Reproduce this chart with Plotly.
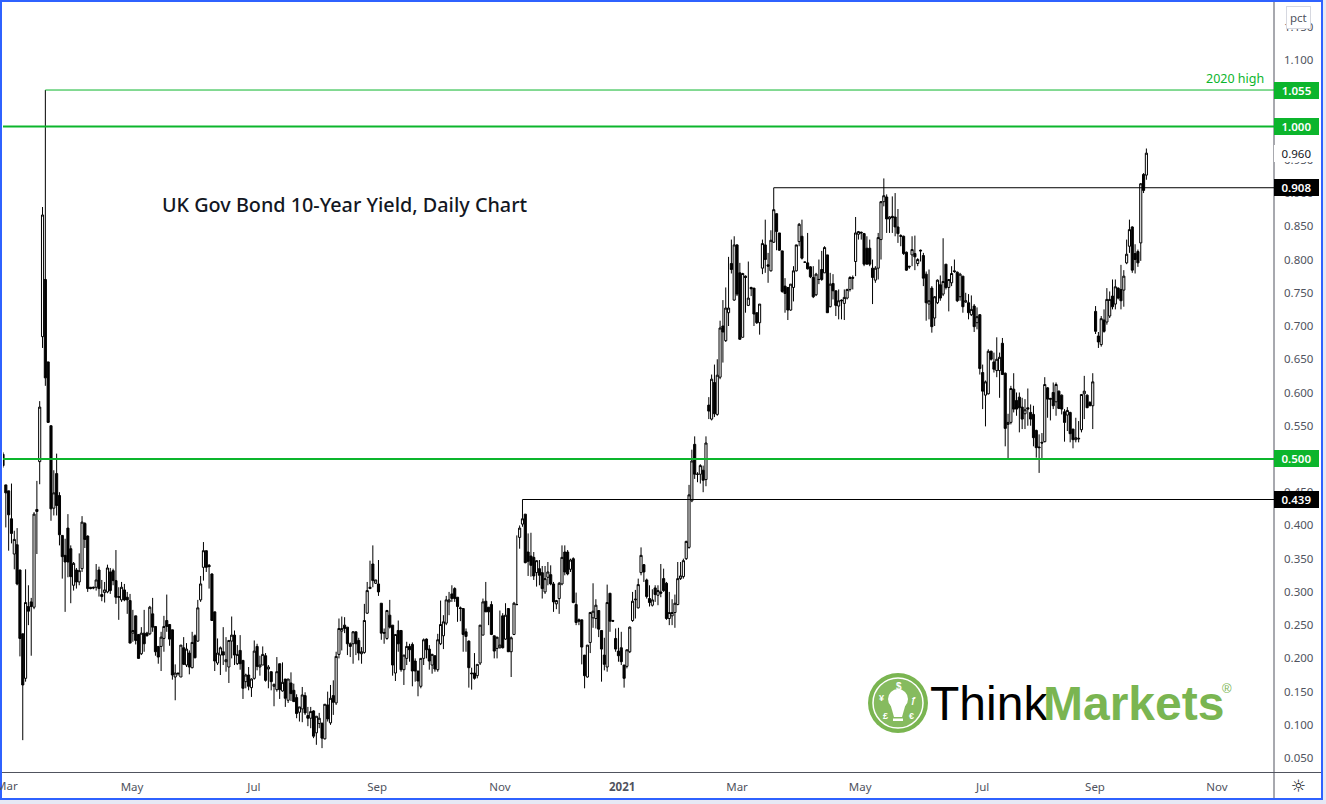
import plotly.graph_objects as go

open_vals = [
.507,.461,.452,.410,.357,.371,.333,.237,.170,.278,
.285,.277,.424,.496,.684,.770,.646,.550,.426,.478,
.445,.385,.355,.396,.365,.310,.333,.315,.335,.403,
.384,.307,.307,.307,.333,.296,.299,.300,.330,.332,
.317,.293,.288,.303,.292,.287,.238,.264,.236,.207,
.238,.238,.237,.267,.248,.218,.218,.230,.257,.251,
.243,.172,.178,.172,.216,.190,.208,.186,.234,.226,
.288,.337,.362,.340,.327,.270,.193,.205,.210,.195,
.187,.226,.235,.192,.212,.197,.165,.175,.156,.170,
.218,.187,.190,.204,.184,.180,.158,.153,.192,.151,
.169,.137,.163,.152,.141,.119,.124,.144,.114,.110,
.121,.088,.102,.102,.079,.130,.103,.144,.133,.206,
.241,.250,.247,.222,.222,.240,.227,.207,.209,.268,
.305,.342,.313,.312,.283,.239,.230,.265,.250,.178,
.242,.242,.183,.200,.218,.221,.196,.181,.158,.200,
.229,.214,.190,.204,.183,.222,.234,.253,.285,.297,
.305,.292,.276,.275,.240,.226,.178,.178,.174,.193,
.235,.286,.277,.281,.234,.215,.216,.264,.229,.275,
.210,.236,.281,.382,.402,.417,.360,.354,.352,.329,
.335,.329,.300,.322,.326,.312,.282,.290,.312,.360,
.360,.334,.350,.281,.258,.258,.205,.172,.224,.261,
.260,.272,.242,.205,.187,.298,.257,.230,.211,.216,
.190,.188,.210,.257,.288,.276,.329,.341,.318,.290,
.280,.306,.295,.300,.320,.313,.260,.264,.269,.281,
.320,.323,.350,.367,.437,.522,.477,.477,.483,.469,
.581,.560,.615,.567,.623,.700,.678,.720,.794,.739,
.822,.780,.683,.775,.731,.758,.757,.720,.705,.787,
.822,.792,.783,.826,.869,.840,.813,.760,.758,.724,
.758,.783,.827,.835,.796,.795,.789,.773,.747,.770,
.785,.780,.807,.729,.764,.753,.730,.739,.734,.742,
.755,.773,.797,.838,.841,.839,.817,.817,.787,.769,
.787,.830,.887,.894,.861,.865,.864,.849,.836,.835,
.811,.790,.807,.809,.794,.814,.806,.778,.733,.757,
.712,.735,.762,.748,.793,.758,.765,.783,.781,.744,
.775,.736,.735,.717,.730,.705,.717,.630,.596,.598,
.662,.646,.633,.633,.674,.629,.552,.555,.605,.588,
.593,.578,.568,.577,.570,.567,.543,.518,.525,.526,
.607,.591,.600,.586,.602,.596,.571,.566,.570,.545,
.529,.530,.544,.598,.596,.585,.580,.722,.685,.672,
.709,.706,.715,.745,.733,.757,.755,.754,.795,.820,
.849,.809,.812,.825,.928,.927]

high_vals = [
.510,.461,.452,.463,.392,.396,.333,.237,.334,.310,
.291,.420,.467,.587,.879,1.055,.646,.550,.483,.508,
.450,.385,.380,.417,.370,.345,.336,.358,.414,.405,
.385,.307,.308,.342,.338,.318,.315,.341,.336,.335,
.363,.307,.315,.312,.300,.297,.273,.264,.236,.247,
.273,.240,.279,.291,.248,.218,.240,.264,.296,.251,
.243,.191,.178,.220,.232,.223,.212,.240,.236,.288,
.324,.375,.362,.342,.328,.270,.230,.218,.247,.232,
.227,.263,.242,.220,.235,.197,.177,.187,.170,.227,
.222,.204,.218,.208,.190,.180,.162,.202,.192,.194,
.169,.169,.179,.162,.146,.127,.157,.149,.127,.127,
.122,.113,.118,.104,.130,.150,.160,.167,.210,.260,
.263,.262,.247,.224,.241,.240,.231,.217,.282,.315,
.347,.370,.318,.348,.283,.245,.273,.288,.250,.236,
.257,.242,.205,.225,.222,.224,.200,.181,.200,.230,
.230,.220,.207,.204,.237,.287,.265,.294,.300,.310,
.307,.292,.278,.275,.245,.227,.186,.208,.191,.250,
.290,.315,.277,.286,.234,.230,.272,.268,.283,.275,
.233,.285,.385,.400,.439,.417,.388,.389,.360,.347,
.348,.339,.339,.345,.340,.315,.288,.315,.370,.370,
.363,.350,.352,.299,.260,.258,.205,.220,.270,.313,
.289,.272,.242,.231,.311,.298,.258,.245,.246,.240,
.190,.213,.248,.300,.303,.320,.367,.342,.320,.310,
.304,.310,.310,.342,.335,.315,.300,.289,.296,.345,
.345,.350,.377,.461,.514,.534,.480,.492,.490,.534,
.593,.627,.642,.650,.708,.739,.758,.804,.830,.835,
.823,.795,.780,.776,.797,.759,.757,.720,.733,.830,
.860,.810,.844,.908,.869,.840,.813,.772,.758,.763,
.790,.820,.855,.860,.797,.840,.790,.790,.780,.800,
.813,.820,.807,.780,.778,.753,.755,.740,.755,.756,
.775,.776,.864,.843,.842,.840,.835,.830,.800,.790,
.840,.888,.922,.898,.865,.895,.900,.876,.838,.836,
.812,.790,.835,.836,.802,.815,.810,.782,.785,.760,
.745,.770,.776,.832,.793,.770,.790,.800,.782,.780,
.775,.750,.748,.746,.733,.728,.718,.642,.618,.665,
.663,.660,.683,.660,.682,.630,.568,.610,.629,.600,
.600,.592,.590,.606,.582,.580,.544,.537,.539,.623,
.608,.592,.615,.615,.603,.597,.575,.578,.571,.545,
.562,.557,.597,.625,.597,.587,.629,.730,.691,.715,
.725,.757,.752,.770,.770,.758,.792,.784,.830,.860,
.850,.823,.815,.915,.930,.967]

low_vals = [
.487,.397,.362,.373,.334,.310,.203,.077,.165,.250,
.204,.274,.357,.462,.667,.610,.555,.407,.415,.415,
.370,.320,.270,.322,.283,.302,.305,.310,.330,.366,
.300,.304,.304,.302,.293,.286,.284,.298,.297,.310,
.282,.258,.285,.286,.267,.223,.225,.221,.200,.205,
.210,.233,.235,.240,.204,.192,.181,.210,.240,.219,
.168,.137,.174,.172,.190,.187,.176,.185,.200,.225,
.285,.317,.330,.305,.257,.181,.190,.175,.190,.180,
.163,.200,.190,.190,.183,.139,.155,.152,.142,.168,
.182,.174,.190,.165,.155,.152,.128,.150,.139,.150,
.127,.133,.136,.135,.110,.105,.104,.115,.098,.095,
.080,.070,.095,.065,.078,.105,.100,.115,.130,.200,
.212,.238,.205,.202,.192,.205,.197,.192,.207,.267,
.305,.307,.312,.294,.228,.222,.228,.245,.174,.166,
.210,.180,.160,.190,.195,.158,.165,.143,.155,.190,
.200,.183,.177,.180,.180,.220,.214,.250,.265,.285,
.285,.255,.256,.210,.210,.156,.153,.168,.170,.190,
.235,.270,.250,.235,.200,.200,.215,.215,.228,.210,
.172,.235,.280,.365,.398,.343,.324,.323,.318,.308,
.310,.290,.297,.310,.310,.270,.274,.267,.310,.325,
.325,.330,.283,.250,.250,.191,.155,.171,.208,.246,
.245,.232,.165,.182,.180,.240,.255,.210,.195,.190,
.156,.185,.208,.255,.260,.275,.325,.315,.290,.278,
.278,.285,.280,.292,.300,.258,.250,.250,.246,.280,
.318,.320,.348,.365,.435,.470,.465,.463,.450,.459,
.560,.558,.563,.565,.620,.645,.676,.700,.779,.738,
.745,.680,.683,.720,.730,.745,.700,.703,.687,.778,
.780,.765,.782,.825,.814,.813,.750,.720,.709,.723,
.737,.782,.820,.800,.795,.785,.772,.742,.745,.763,
.768,.780,.720,.728,.740,.715,.710,.710,.709,.740,
.752,.755,.775,.830,.830,.790,.793,.790,.733,.765,
.770,.800,.880,.840,.840,.840,.835,.825,.820,.807,
.783,.786,.790,.784,.790,.797,.760,.708,.710,.690,
.700,.733,.738,.745,.755,.722,.760,.780,.736,.738,
.720,.735,.710,.715,.691,.695,.627,.575,.549,.597,
.648,.630,.623,.592,.627,.519,.500,.552,.570,.565,
.540,.545,.545,.550,.550,.519,.502,.479,.500,.525,
.562,.558,.575,.565,.575,.567,.526,.542,.525,.516,
.525,.525,.540,.560,.577,.580,.545,.688,.667,.669,
.690,.702,.712,.725,.725,.740,.725,.729,.793,.810,
.780,.779,.789,.798,.900,.920]

close_vals = [
.490,.449,.416,.388,.379,.312,.230,.160,.284,.271,
.278,.417,.421,.578,.867,.622,.555,.425,.449,.430,
.386,.353,.345,.345,.323,.343,.315,.332,.405,.379,
.305,.305,.306,.318,.305,.293,.303,.336,.302,.317,
.292,.292,.307,.288,.288,.223,.242,.227,.200,.238,
.222,.234,.277,.247,.210,.202,.232,.248,.248,.229,
.175,.178,.177,.220,.191,.214,.187,.224,.201,.276,
.312,.362,.337,.338,.257,.196,.208,.216,.205,.198,
.227,.235,.205,.206,.192,.155,.175,.158,.169,.211,
.188,.190,.206,.167,.187,.165,.161,.180,.153,.164,
.140,.169,.147,.135,.117,.127,.145,.118,.110,.120,
.083,.113,.110,.080,.131,.109,.140,.134,.203,.245,
.245,.245,.222,.218,.240,.222,.208,.210,.257,.302,
.307,.317,.318,.300,.238,.238,.272,.247,.190,.236,
.222,.183,.205,.218,.213,.181,.181,.166,.200,.228,
.213,.196,.206,.184,.228,.251,.255,.288,.288,.290,
.290,.278,.275,.236,.233,.186,.177,.170,.191,.250,
.285,.270,.270,.236,.211,.232,.220,.216,.265,.210,
.231,.283,.281,.396,.410,.344,.346,.340,.324,.347,
.325,.305,.320,.330,.312,.285,.287,.313,.352,.330,
.327,.348,.284,.254,.256,.217,.174,.220,.269,.271,
.280,.244,.214,.191,.284,.256,.256,.214,.204,.195,
.170,.213,.247,.286,.289,.311,.355,.330,.293,.284,
.288,.296,.302,.298,.302,.260,.269,.269,.283,.320,
.324,.347,.376,.446,.497,.477,.477,.490,.468,.524,
.572,.620,.568,.626,.697,.691,.727,.727,.785,.822,
.748,.680,.779,.773,.742,.756,.718,.705,.733,.824,
.800,.790,.829,.875,.842,.814,.752,.749,.724,.763,
.783,.822,.853,.802,.796,.786,.774,.744,.778,.770,
.770,.818,.720,.763,.753,.731,.738,.738,.743,.755,
.773,.772,.840,.842,.840,.793,.793,.793,.773,.787,
.833,.887,.896,.861,.864,.863,.849,.839,.835,.809,
.784,.789,.815,.804,.800,.813,.772,.735,.738,.699,
.744,.769,.742,.767,.758,.770,.779,.782,.738,.778,
.729,.738,.720,.725,.699,.714,.636,.602,.616,.662,
.650,.635,.650,.653,.627,.546,.555,.606,.575,.575,
.577,.560,.574,.575,.560,.532,.517,.517,.524,.612,
.590,.590,.580,.612,.576,.575,.555,.573,.538,.529,
.532,.531,.597,.602,.577,.580,.616,.692,.676,.711,
.692,.740,.740,.729,.759,.742,.738,.775,.808,.845,
.784,.800,.795,.914,.904,.960]

assert len(open_vals) == len(high_vals) == len(low_vals) == len(close_vals) == 406

bar_index = list(range(len(open_vals)))

month_positions = [45.7, 88.9, 132.5, 176, 219.3, 260, 303.6, 347, 386.8, 430]
month_labels = ["May", "Jul", "Sep", "Nov", "<b>2021</b>", "Mar", "May", "Jul", "Sep", "Nov"]

# 1.050, 1.000 and 0.500 sit fully under their level badges in the reference
price_ticks = [0.05, 0.10, 0.15, 0.20, 0.25, 0.30, 0.35, 0.40, 0.45, 0.55, 0.60, 0.65,
               0.70, 0.75, 0.80, 0.85, 0.90, 0.95, 1.10, 1.15]
price_tick_labels = ["%.3f" % p for p in price_ticks]

green_levels = [1.055, 1.000, 0.500]
green_starts = [15, 0, 0]
green_widths = [1, 2, 2]
black_levels = [0.908, 0.439]
black_starts = [273, 184]
last_close = 0.960

GREEN = "#0cb52c"
GREY = "#50535e"
BLUE = "#2f62ff"
FONT = "Noto Sans"
X_END = 450.2


def px(x):
    return (x - 3) / 1271


def py(y):
    return (772 - y) / 769


fig = go.Figure()
fig.add_trace(go.Candlestick(
    x=bar_index, open=open_vals, high=high_vals, low=low_vals, close=close_vals,
    increasing=dict(line=dict(color="#000000", width=1), fillcolor="#ffffff"),
    decreasing=dict(line=dict(color="#000000", width=1), fillcolor="#000000"),
    whiskerwidth=0, showlegend=False, hoverinfo="skip"))

for lvl, start in zip(black_levels, black_starts):
    fig.add_trace(go.Scatter(x=[start, X_END], y=[lvl, lvl], mode="lines",
                             line=dict(color="#000000", width=1), showlegend=False, hoverinfo="skip"))
for lvl, start, w in zip(green_levels, green_starts, green_widths):
    fig.add_trace(go.Scatter(x=[start, X_END], y=[lvl, lvl], mode="lines",
                             line=dict(color=GREEN, width=w), showlegend=False, hoverinfo="skip"))

shapes = [
    dict(type="rect", xref="paper", yref="paper", x0=px(1), x1=px(1322), y0=py(799), y1=py(1),
         fillcolor="#ffffff", line=dict(color=BLUE, width=2), layer="below"),
    dict(type="line", xref="paper", yref="paper", x0=px(1274), x1=px(1274), y0=py(798), y1=py(2),
         line=dict(color=GREY, width=1), layer="below"),
    dict(type="line", xref="paper", yref="paper", x0=px(2), x1=px(1321), y0=py(772.5), y1=py(772.5),
         line=dict(color=GREY, width=1), layer="below"),
    # logo
    dict(type="circle", xref="paper", yref="paper", x0=px(868), x1=px(928), y0=py(733), y1=py(673),
         fillcolor="#7ab551", line=dict(width=0), layer="above"),
    dict(type="circle", xref="paper", yref="paper", x0=px(873), x1=px(923), y0=py(728), y1=py(678),
         fillcolor="#86bb5f", line=dict(color="#ffffff", width=1.5), layer="above"),
    dict(type="circle", xref="paper", yref="paper", x0=px(888), x1=px(908), y0=py(709), y1=py(689),
         fillcolor="#ffffff", line=dict(width=0), layer="above"),
    dict(type="path", xref="paper", yref="paper",
         path="M %f %f L %f %f L %f %f L %f %f Z" % (px(890), py(703), px(906), py(703), px(902), py(717), px(894), py(717)),
         fillcolor="#ffffff", line=dict(width=0), layer="above"),
    dict(type="rect", xref="paper", yref="paper", x0=px(893), x1=px(903), y0=py(721), y1=py(718.5),
         fillcolor="#ffffff", line=dict(width=0), layer="above"),
]

annotations = []


def badge(value, text, bg, fg, weight=600):
    annotations.append(dict(xref="paper", yref="y", x=1, y=value, text=text, showarrow=False,
                            xanchor="left", yanchor="middle", width=43, height=15, align="center",
                            bgcolor=bg, borderpad=1, borderwidth=0,
                            font=dict(family=FONT, size=11.5, color=fg, weight=weight)))


for v in green_levels:
    badge(v, "%.3f" % v, GREEN, "#ffffff")
for v in black_levels:
    badge(v, "%.3f" % v, "#000000", "#ffffff")
badge(last_close, "%.3f" % last_close, "#ffffff", "#131722", weight=400)


def note(x, y, text, size, color, family=FONT, anchor="left", weight=None, bg=None, bc=None):
    f = dict(family=family, size=size, color=color)
    if weight:
        f["weight"] = weight
    d = dict(xref="paper", yref="paper", x=px(x), y=py(y), text=text, showarrow=False,
             xanchor=anchor, yanchor="middle", font=f)
    if bg:
        d.update(bgcolor=bg, bordercolor=bc, borderwidth=1, borderpad=3)
    annotations.append(d)


note(6.5, 786, "Mar", 11.5, GREY, anchor="center")
note(160, 205, "UK Gov Bond 10-Year Yield, Daily Chart", 19.8, "#131722", weight=500)
note(1266, 79, "2020 high", 12.5, GREEN, anchor="right")
note(1298.5, 17, "pct", 11.5, GREY, anchor="center", bg="#ffffff", bc="#d6d8e0")
note(1298, 786, "\u263c", 17, "#131722", family="DejaVu Sans", anchor="center")
note(928, 703.5, "Think", 48, "#000000", family="Liberation Sans")
note(1041, 703.5, "<b>Markets</b>", 48, "#7ab551", family="Liberation Sans")
note(1220, 688, "\u00ae", 13, "#7ab551", family="Liberation Sans")
note(898.5, 686, "<b>$</b>", 10, "#ffffff", family="Liberation Sans", anchor="center")
note(881.5, 698, "<b>\u00a5</b>", 9, "#ffffff", family="Liberation Sans", anchor="center")
note(913.5, 700, "<b>\u0192</b>", 9, "#ffffff", family="Liberation Sans", anchor="center")
note(885, 716, "<b>\u00a3</b>", 9, "#ffffff", family="Liberation Sans", anchor="center")
note(911.5, 716, "<b>\u20ac</b>", 9, "#ffffff", family="Liberation Sans", anchor="center")

fig.update_layout(
    width=1326, height=804,
    margin=dict(l=3, r=52, t=3, b=32),
    paper_bgcolor="#e6e9f5", plot_bgcolor="rgba(0,0,0,0)",
    boxgap=0.25, boxgroupgap=0,
    showlegend=False,
    shapes=shapes, annotations=annotations,
    font=dict(family=FONT, color=GREY),
    xaxis=dict(range=[0, X_END], tickmode="array", tickvals=month_positions, ticktext=month_labels,
               showgrid=False, zeroline=False, showline=False, ticks="", rangeslider=dict(visible=False),
               tickfont=dict(family=FONT, size=11.5, color=GREY), ticklabelstandoff=6, fixedrange=True),
    yaxis=dict(range=[0.0291, 1.1859], side="right", tickmode="array", tickvals=price_ticks, ticktext=price_tick_labels,
               showgrid=False, zeroline=False, showline=False, ticks="",
               tickfont=dict(family=FONT, size=11.5, color=GREY), ticklabelstandoff=9, fixedrange=True),
)

fig.write_html("out.html", config={"displayModeBar": False},
               post_script="document.body.style.margin='0';document.body.style.overflow='hidden';")
